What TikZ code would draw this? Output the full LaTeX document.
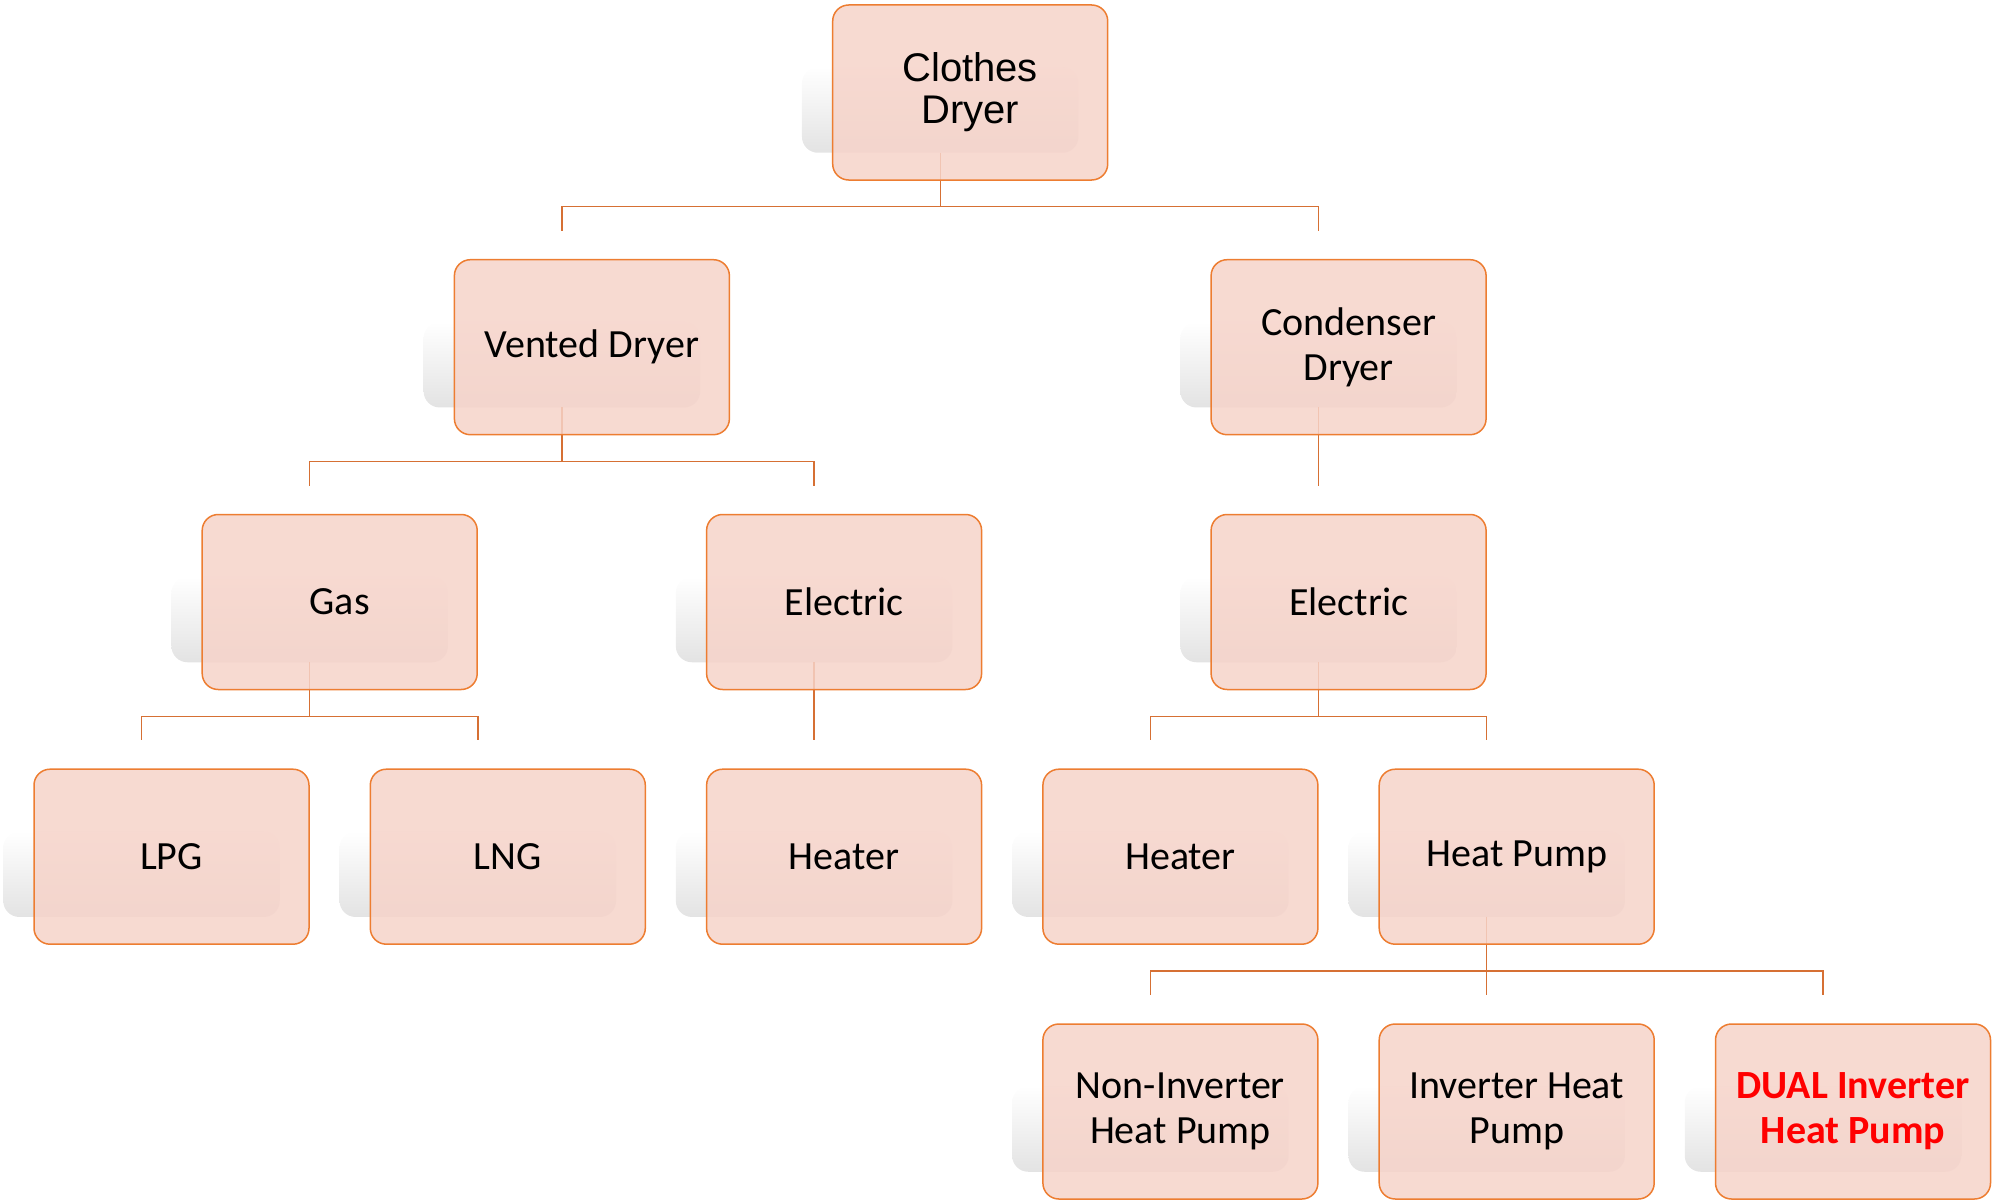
\documentclass[tikz,border=0pt]{standalone}
\usepackage{fontspec}
\setmainfont{Carlito}
\newfontfamily\rootfont{Liberation Sans}
\usetikzlibrary{backgrounds}
\definecolor{boxline}{RGB}{237,125,49}
\definecolor{boxfill}{RGB}{246,211,201}
\definecolor{linkline}{RGB}{214,112,52}
\begin{document}
\begin{tikzpicture}[x=0.5pt,y=-0.5pt]
        % Styles
        \tikzstyle{box}=[draw=boxline,line width=0.75pt,fill=boxfill,fill opacity=0.85,text opacity=1,rounded corners=8pt,minimum width=137.5pt,minimum height=87.5pt,align=center,font=\fontsize{20}{22.5}\selectfont]
        \tikzstyle{rootbox}=[box,font=\rootfont\fontsize{20}{21}\selectfont]
        \tikzstyle{shadowbox}=[rounded corners=8pt,top color=white,bottom color=black!11]
        \tikzstyle{link}=[draw=linkline,line width=0.7pt]
        \useasboundingbox (0,0) rectangle (1997,1204);
        %The graphic
        %boxes
        \node[rootbox] (root) at (970.2,92.5) {Clothes\\Dryer};
        \node[box] (vented) at (591.9,347.2) {Vented Dryer};
        \node[box] (condenser) at (1348.6,347.2) {Condenser\\Dryer};
        \node[box] (gas) at (339.7,602) {Gas};
        \node[box] (velectric) at (844.1,602) {Electric};
        \node[box] (celectric) at (1348.6,602) {Electric};
        \node[box] (lpg) at (171.5,856.7) {LPG};
        \node[box] (lng) at (507.8,856.7) {LNG};
        \node[box] (vheater) at (844.1,856.7) {Heater};
        \node[box] (cheater) at (1180.4,856.7) {Heater};
        \node[box] (heatpump) at (1516.7,856.7) {Heat Pump};
        \node[box] (noninv) at (1180.4,1111.5) {Non-Inverter\\Heat Pump};
        \node[box] (inv) at (1516.7,1111.5) {Inverter Heat\\Pump};
        \node[box,text=red,font=\bfseries\fontsize{20}{22.5}\selectfont] (dual) at (1853,1111.5) {DUAL Inverter\\Heat Pump};
        \begin{pgfonlayer}{background}
            %shadows
            \foreach \n in {root,vented,condenser,gas,velectric,celectric,lpg,lng,vheater,cheater,heatpump,noninv,inv,dual}
            \shade[shadowbox] ([shift={(-30,63)}]\n.north west) rectangle ([shift={(-30,-28)}]\n.south east);
            %links
            \foreach \p/\c in {root/vented,root/condenser,vented/gas,vented/velectric,condenser/celectric,gas/lpg,gas/lng,velectric/vheater,celectric/cheater,celectric/heatpump,heatpump/noninv,heatpump/inv,heatpump/dual}
            \draw[link] ([shift={(-30,-28)}]\p.south) -- ++(0,54) -| ([shift={(-30,-28)}]\c.north);
        \end{pgfonlayer}
\end{tikzpicture}
\end{document}
